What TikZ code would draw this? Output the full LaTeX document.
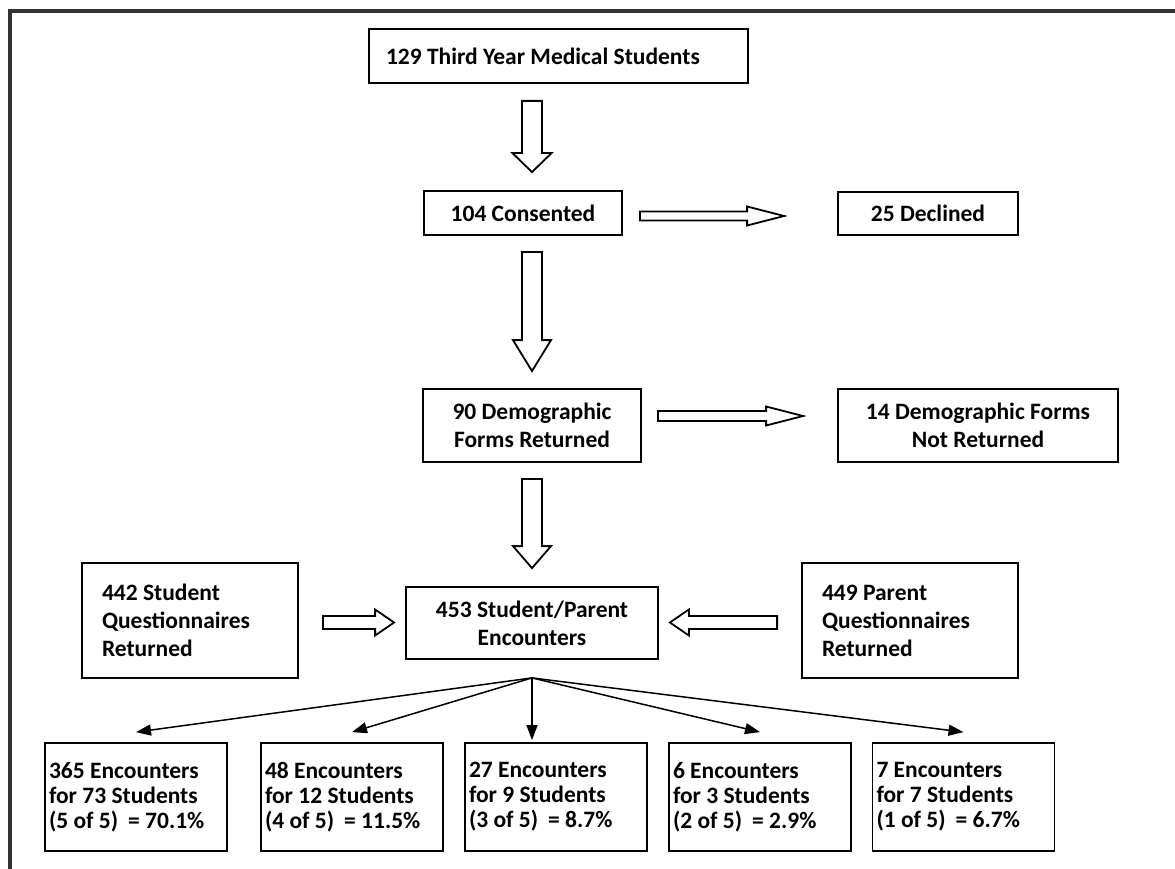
\documentclass[tikz,border=0pt]{standalone}
\usepackage{fontspec}
\setmainfont{Carlito}
\usetikzlibrary{calc,arrows.meta}
\newcommand\blkdown[5]{\draw[blk] let \p1=(#1), \p2=(#2) in
  (\x1-#3,\y1) -- (\x1+#3,\y1) -- (\x1+#3,\y2+#5) -- (\x1+#4,\y2+#5) -- (\x1,\y2) -- (\x1-#4,\y2+#5) -- (\x1-#3,\y2+#5) -- cycle;}
\newcommand\blkright[5]{\draw[blk] let \p1=(#1), \p2=(#2) in
  (\x1,\y1+#3) -- (\x2-#5,\y1+#3) -- (\x2-#5,\y1+#4) -- (\x2,\y1) -- (\x2-#5,\y1-#4) -- (\x2-#5,\y1-#3) -- (\x1,\y1-#3) -- cycle;}
\newcommand\blkleft[5]{\draw[blk] let \p1=(#1), \p2=(#2) in
  (\x1,\y1+#3) -- (\x2+#5,\y1+#3) -- (\x2+#5,\y1+#4) -- (\x2,\y1) -- (\x2+#5,\y1-#4) -- (\x2+#5,\y1-#3) -- (\x1,\y1-#3) -- cycle;}
\begin{document}
\begin{tikzpicture}[x=1pt,y=-1pt,
  box/.style={draw, line width=1.8pt, inner sep=0pt, font=\fontsize{23.5}{28}\selectfont\bfseries},
  cbox/.style={box, align=center},
  lbox/.style={box, align=flush left},
  bbox/.style={box, align=flush left, font=\fontsize{23.5}{25}\selectfont\bfseries, minimum width=182pt, minimum height=108pt, text width=174pt},
  blk/.style={draw, line width=1.8pt, fill=white, line join=miter},
  fan/.style={line width=1.5pt, -{Triangle[length=15pt,width=11pt]}}]
\useasboundingbox (0,0) rectangle (1175,869);
\fill[white] (0,0) rectangle (1175,869);
\draw[line width=4pt, black!80] (8,11) -- (1175,11);
\draw[line width=4pt, black!80] (10,9) -- (10,869);

\node[lbox, minimum width=379pt, minimum height=54pt, text width=345pt] (top) at (558.5,56) {129 Third Year Medical Students};
\node[cbox, minimum width=198pt, minimum height=44pt] (cons) at (523,213) {104 Consented};
\node[cbox, minimum width=180pt, minimum height=43pt] (decl) at (928,213.5) {25 Declined};
\node[cbox, minimum width=218pt, minimum height=73pt] (demo) at (532,425.5) {90 Demographic\\Forms Returned};
\node[cbox, minimum width=280pt, minimum height=73pt] (notret) at (978,425.5) {14 Demographic Forms\\Not Returned};
\node[lbox, minimum width=216pt, minimum height=115pt, text width=176pt] (stud) at (190,620.5) {442 Student\\Questionnaires\\Returned};
\node[cbox, minimum width=252pt, minimum height=72pt] (enc) at (532,623) {453 Student/Parent\\Encounters};
\node[lbox, minimum width=216pt, minimum height=115pt, text width=176pt] (par) at (910,620.5) {449 Parent\\Questionnaires\\Returned};

\node[bbox] (b1) at (136,797) {365 Encounters\\for 73 Students\\(5 of 5)\hspace{10pt}= 70.1\%};
\node[bbox] (b2) at (352,797) {48 Encounters\\for 12 Students\\(4 of 5)\hspace{10pt}= 11.5\%};
\node[bbox] (b3) at (556,797) {27 Encounters\\for 9 Students\\(3 of 5)\hspace{10pt}= 8.7\%};
\node[bbox] (b4) at (760,797) {6 Encounters\\for 3 Students\\(2 of 5)\hspace{10pt}= 2.9\%};
\node[bbox] (b5) at (963.5,797) {7 Encounters\\for 7 Students\\(1 of 5)\hspace{10pt}= 6.7\%};

\blkdown{$(top.south -| demo.north)+(0,17)$}{$(cons.north -| demo.north)+(0,-18)$}{10pt}{19.5pt}{19pt}
\blkdown{$(cons.south -| demo.north)+(0,16)$}{$(demo.north)+(0,-17)$}{10pt}{19pt}{31pt}
\blkdown{$(demo.south)+(0,16)$}{$(enc.north)+(0,-18)$}{10pt}{19pt}{22pt}
\blkright{$(cons.east)+(17,3)$}{$(decl.west)+(-53,0)$}{4.5pt}{9.5pt}{37pt}
\blkright{$(demo.east)+(16,-9.5)$}{$(notret.west)+(-34,0)$}{5pt}{9.5pt}{37pt}
\blkright{$(stud.east)+(24,2)$}{$(enc.west)+(-11,0)$}{6.5pt}{13pt}{19pt}
\blkleft{$(par.west)+(-24,2)$}{$(enc.east)+(11,0)$}{6.5pt}{13pt}{19pt}

\coordinate (f) at ($(enc.south)+(0,18)$);
\foreach \b in {b1,b2,b4,b5} \draw[fan] (f) -- ($(\b.north)+(0,-10)$);
\draw[fan] (f) -- ($(b3.north -| f)+(0,-2)$);
\end{tikzpicture}
\end{document}
